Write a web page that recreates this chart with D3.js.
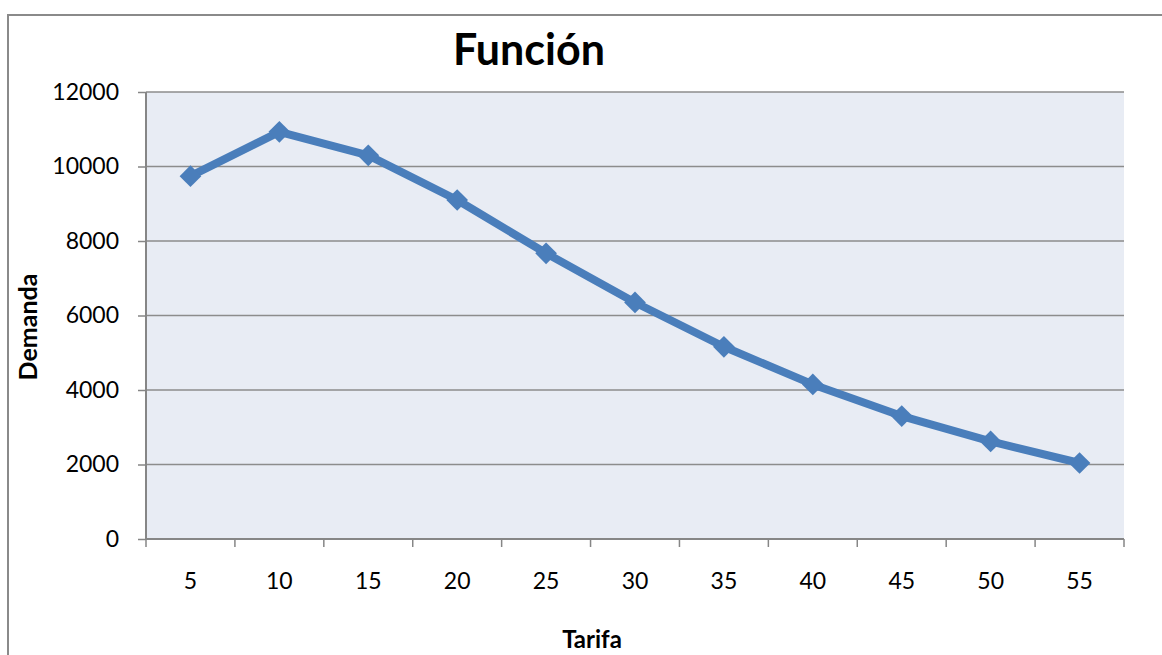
<!DOCTYPE html>
<html>
<head>
    <meta charset="utf-8"/>
    <title>Función</title>
    <script src="https://d3js.org/d3.v7.min.js"></script>
    <style>
        body { margin: 0; background: #fff; }
        text { font-family: Lato, "Open Sans", sans-serif; fill: #000; }
    </style>
</head>
<body>
    <div id="chart"></div>
    <script>
        // data
        var tarifas = ["5", "10", "15", "20", "25", "30", "35", "40", "45", "50", "55"];
        var demanda = [9740, 10930, 10300, 9100, 7670, 6350, 5160, 4150, 3300, 2620, 2040];
        var yTicks = [0, 2000, 4000, 6000, 8000, 10000, 12000];

        var W = 1162, H = 655;
        var plot = {left: 146, right: 1124, top: 92, bottom: 539};

        var svg = d3.select("#chart").append("svg")
            .attr("width", W).attr("height", H);

        // outer chart border
        svg.append("rect")
            .attr("x", 8).attr("y", 15)
            .attr("width", W).attr("height", H)
            .attr("fill", "#fff")
            .attr("stroke", "#8a8a8a").attr("stroke-width", 2);

        var x = d3.scaleBand()
            .domain(tarifas)
            .range([plot.left, plot.right]);

        var y = d3.scaleLinear()
            .domain([0, 12000])
            .range([plot.bottom, plot.top]);

        // plot background
        svg.append("rect")
            .attr("x", plot.left).attr("y", plot.top)
            .attr("width", plot.right - plot.left)
            .attr("height", plot.bottom - plot.top)
            .attr("fill", "#e8ecf4");

        // gridlines
        svg.append("g").selectAll("line")
            .data(yTicks.slice(1))
            .enter().append("line")
            .attr("x1", plot.left).attr("x2", plot.right)
            .attr("y1", function(d) { return y(d); })
            .attr("y2", function(d) { return y(d); })
            .attr("stroke", "#8c8c8c").attr("stroke-width", 1.5);

        // y axis
        var yAxis = svg.append("g")
            .attr("transform", "translate(" + plot.left + ",0)")
            .call(d3.axisLeft(y).tickValues(yTicks).tickSize(8).tickPadding(19).tickFormat(d3.format("d")));
        yAxis.selectAll("text").style("font-size", "23px");

        // x axis: ticks at category boundaries
        var xAxis = svg.append("g")
            .attr("transform", "translate(0," + plot.bottom + ")")
            .call(d3.axisBottom(x).tickSize(0).tickPadding(34));
        xAxis.selectAll("text").style("font-size", "23px");
        xAxis.selectAll(".tick line").remove();
        xAxis.selectAll(".bound")
            .data(tarifas.concat(["end"]))
            .enter().append("line")
            .attr("class", "bound")
            .attr("x1", function(d, i) { return plot.left + i * x.bandwidth(); })
            .attr("x2", function(d, i) { return plot.left + i * x.bandwidth(); })
            .attr("y1", 0).attr("y2", 8)
            .attr("stroke", "#868686").attr("stroke-width", 1.5);

        svg.selectAll(".domain")
            .attr("stroke", "#868686").attr("stroke-width", 2);
        yAxis.selectAll(".tick line").attr("stroke", "#868686").attr("stroke-width", 1.5);
        xAxis.select(".domain").attr("d", "M" + plot.left + ",0H" + plot.right);
        yAxis.select(".domain").attr("d", "M0," + plot.bottom + "V" + plot.top);

        // the line
        var line = d3.line()
            .x(function(d, i) { return x(tarifas[i]) + x.bandwidth() / 2; })
            .y(function(d) { return y(d); });

        svg.append("path")
            .datum(demanda)
            .attr("d", line)
            .attr("fill", "none")
            .attr("stroke", "#4a7ebb")
            .attr("stroke-width", 8)
            .attr("stroke-linejoin", "round");

        // diamond markers
        svg.selectAll(".pt")
            .data(demanda)
            .enter().append("path")
            .attr("class", "pt")
            .attr("d", d3.symbol().type(d3.symbolDiamond2).size(300))
            .attr("transform", function(d, i) {
                return "translate(" + (x(tarifas[i]) + x.bandwidth() / 2) + "," + y(d) + ")";
            })
            .attr("fill", "#4a7ebb");

        // titles
        svg.append("text")
            .attr("x", 529).attr("y", 65)
            .attr("text-anchor", "middle")
            .style("font-size", "43px").style("font-weight", "bold")
            .text("Función");

        svg.append("text")
            .attr("transform", "translate(37,327) rotate(-90)")
            .attr("text-anchor", "middle")
            .style("font-size", "25px").style("font-weight", "bold")
            .text("Demanda");

        svg.append("text")
            .attr("x", 592).attr("y", 648)
            .attr("text-anchor", "middle")
            .style("font-size", "24px").style("font-weight", "bold")
            .text("Tarifa");
    </script>
</body>
</html>
